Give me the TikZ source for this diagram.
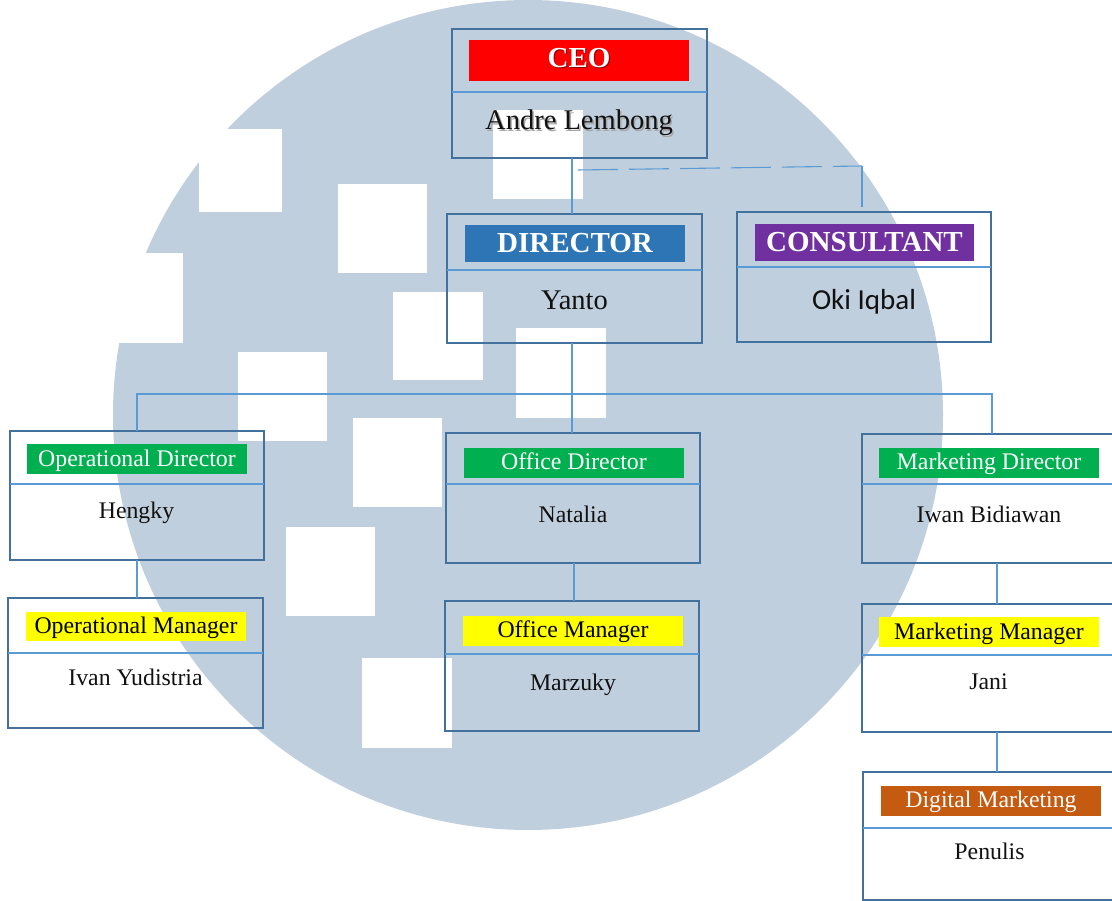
\documentclass[tikz,border=0pt]{standalone}
\usepackage{fontspec}
\setmainfont{Liberation Serif}
\newfontfamily\calfont{Carlito}
\definecolor{bgc}{RGB}{192,207,221}
\definecolor{boxc}{RGB}{65,113,156}
\definecolor{linec}{RGB}{91,155,213}
\definecolor{cred}{RGB}{255,0,0}
\definecolor{cblue}{RGB}{46,117,182}
\definecolor{cpurple}{RGB}{112,48,160}
\definecolor{cgreen}{RGB}{0,176,80}
\definecolor{cyellow}{RGB}{255,255,0}
\definecolor{corange}{RGB}{197,90,17}
\definecolor{ink}{RGB}{17,17,17}
\begin{document}
\begin{tikzpicture}[x=1pt,y=-1pt,
  orgbox/.style={draw=boxc, line width=2.2pt, inner sep=0pt, outer sep=0pt},
  band/.style={inner sep=0pt, outer sep=0pt, minimum width=220pt},
  divider/.style={draw=linec, line width=1.1pt},
  conn/.style={draw=linec, line width=1.1pt},
  biglabel/.style={anchor=base, inner sep=0pt, text=white, font=\bfseries\fontsize{29}{30}\selectfont},
  bigname/.style={anchor=base, inner sep=0pt, text=ink, font=\fontsize{28.5}{30}\selectfont},
  smalllabel/.style={anchor=base, inner sep=0pt, text=white, font=\fontsize{23.8}{25}\selectfont},
  smallname/.style={anchor=base, inner sep=0pt, text=ink, font=\fontsize{23.8}{25}\selectfont}]
\useasboundingbox (0,0) rectangle (1112,901);
% background circle with white squares
\fill[bgc] (528,415) circle[radius=415pt];
\fill[white] (199,129) rectangle (282,212);
\fill[white] (338,184) rectangle (427,273);
\fill[white] (393,292) rectangle (483,380);
\fill[white] (238,352) rectangle (327,441);
\fill[white] (353,418) rectangle (442,507);
\fill[white] (286,527) rectangle (375,616);
\fill[white] (362,658) rectangle (452,748);
\fill[white] (493,110) rectangle (583,199);
\fill[white] (516,328) rectangle (606,418);
\fill[white] (90,253) rectangle (183,343);

% ---------- CEO ----------
\node[orgbox, minimum width=255pt, minimum height=129pt] (ceo) at (579.5,93.5) {};
\node[band, fill=cred, minimum height=41pt] (ceob) at (579,60.5) {};
\draw[divider] (ceo.west |- 0,92) -- (ceo.east |- 0,92);
\node[biglabel, text=red!55!black] at (580,69) {CEO};
\node[biglabel] (ceol) at (579,68) {CEO};
\node[bigname, text=black!35] at (580.6,131.6) {Andre Lembong};
\node[bigname] (ceon) at (579,130) {Andre Lembong};

% ---------- DIRECTOR ----------
\node[orgbox, minimum width=255pt, minimum height=129pt] (dir) at (574.5,278.5) {};
\node[band, fill=cblue, minimum height=37pt] (dirb) at (575,243.5) {};
\draw[divider] (dir.west |- 0,270) -- (dir.east |- 0,270);
\node[biglabel] (dirl) at (575,253) {DIRECTOR};
\node[bigname] (dirn) at (574.5,310) {Yanto};

% ---------- CONSULTANT ----------
\node[orgbox, minimum width=254pt, minimum height=130pt] (cons) at (864,277) {};
\node[band, fill=cpurple, minimum width=219pt, minimum height=37pt] (consb) at (864.5,242.5) {};
\draw[divider] (cons.west |- 0,267) -- (cons.east |- 0,267);
\node[biglabel] (consl) at (864.5,252) {CONSULTANT};
\node[bigname, font=\calfont\fontsize{29}{30}\selectfont] (consn) at (864,310) {Oki Iqbal};

% ---------- Operational Director ----------
\node[orgbox, minimum width=254pt, minimum height=129pt] (opd) at (137,495.5) {};
\node[band, fill=cgreen, minimum height=30pt] (opdb) at (137,459) {};
\draw[divider] (opd.west |- 0,484) -- (opd.east |- 0,484);
\node[smalllabel] (opdl) at (137,466) {Operational Director};
\node[smallname] (opdn) at (136.5,518) {Hengky};

% ---------- Operational Manager ----------
\node[orgbox, minimum width=255pt, minimum height=130pt] (opm) at (135.5,663) {};
\node[band, fill=cyellow, minimum height=29pt] (opmb) at (136,626.5) {};
\draw[divider] (opm.west |- 0,653) -- (opm.east |- 0,653);
\node[smalllabel, text=black] (opml) at (136,633) {Operational Manager};
\node[smallname] (opmn) at (135.5,685) {Ivan Yudistria};

% ---------- Office Director ----------
\node[orgbox, minimum width=254pt, minimum height=130pt] (od) at (573,498) {};
\node[band, fill=cgreen, minimum height=30pt] (odb) at (574,463) {};
\draw[divider] (od.west |- 0,484) -- (od.east |- 0,484);
\node[smalllabel] (odl) at (574,469) {Office Director};
\node[smallname] (odn) at (573,522) {Natalia};

% ---------- Office Manager ----------
\node[orgbox, minimum width=254pt, minimum height=130pt] (om) at (572,666) {};
\node[band, fill=cyellow, minimum height=30pt] (omb) at (573,631) {};
\draw[divider] (om.west |- 0,654) -- (om.east |- 0,654);
\node[smalllabel, text=black] (oml) at (573,637) {Office Manager};
\node[smallname] (omn) at (573,690) {Marzuky};

% ---------- Marketing Director ----------
\node[orgbox, minimum width=254pt, minimum height=129pt] (mkd) at (989,498.5) {};
\node[band, fill=cgreen, minimum height=30pt] (mkdb) at (989,463) {};
\draw[divider] (mkd.west |- 0,484) -- (mkd.east |- 0,484);
\node[smalllabel] (mkdl) at (989,469) {Marketing Director};
\node[smallname] (mkdn) at (989,522) {Iwan Bidiawan};

% ---------- Marketing Manager ----------
\node[orgbox, minimum width=254pt, minimum height=128pt] (mkm) at (989,668) {};
\node[band, fill=cyellow, minimum height=30pt] (mkmb) at (989,632) {};
\draw[divider] (mkm.west |- 0,655) -- (mkm.east |- 0,655);
\node[smalllabel, text=black] (mkml) at (989,639) {Marketing Manager};
\node[smallname] (mkmn) at (988.5,689) {Jani};

% ---------- Digital Marketing ----------
\node[orgbox, minimum width=254pt, minimum height=128pt] (dm) at (990,836) {};
\node[band, fill=corange, minimum height=30pt] (dmb) at (991,801) {};
\draw[divider] (dm.west |- 0,828) -- (dm.east |- 0,828);
\node[smalllabel] (dml) at (991,807) {Digital Marketing};
\node[smallname] (dmn) at (989.5,859) {Penulis};

% ---------- connectors ----------
\coordinate (k1) at (572,0);
\coordinate (k2) at (574,0);
\coordinate (k3) at (992,0);
\coordinate (k4) at (997,0);
\coordinate (d1) at (578,170);
\coordinate (d2) at (862,166);
\coordinate (d3) at (862,207);
\draw[conn] (ceo.south -| k1) -- (dir.north -| k1);
\draw[conn, dash pattern=on 40pt off 11pt] (d1) -- (d2);
\draw[conn] (d2) -- (d3);
\draw[conn] (dir.south -| k1) -- (od.north -| k1);
\draw[conn] (opd.north) -- (opd.north |- 0,394) -- (k3 |- 0,394) -- (mkd.north -| k3);
\draw[conn] (opd.south) -- (opm.north -| opd.south);
\draw[conn] (od.south -| k2) -- (om.north -| k2);
\draw[conn] (mkd.south -| k4) -- (mkm.north -| k4);
\draw[conn] (mkm.south -| k4) -- (dm.north -| k4);
\end{tikzpicture}
\end{document}
